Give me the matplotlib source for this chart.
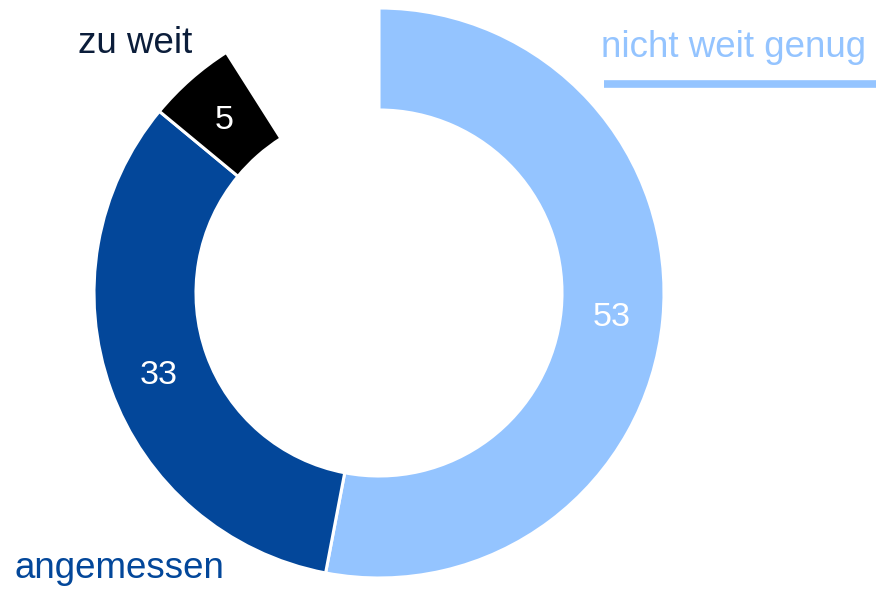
import matplotlib
matplotlib.use('Agg')
import matplotlib.pyplot as plt

# answer shares in percent (rest = no answer)
categories = ["nicht weit genug", "angemessen", "zu weit"]
values = [53, 33, 5]
colors = ["#94c4ff", "#03479a", "#000000"]
label_colors = ["#94c4ff", "#03479a", "#0b1d3a"]

plt.rcParams['font.family'] = ['Liberation Sans', 'DejaVu Sans']

W, H = 876, 589
fig = plt.figure(figsize=(W / 100, H / 100), dpi=100)
ax = fig.add_axes([0, 0, 1, 1])

# donut, clockwise from 12 o'clock
wedges, texts, autotexts = ax.pie(
    [v / 100 for v in values],
    normalize=False,
    colors=colors,
    startangle=90,
    counterclock=False,
    radius=285,
    center=(379, H - 293),
    autopct=lambda p: f"{p:.0f}",
    pctdistance=0.82,
    wedgeprops=dict(width=102, edgecolor="white", linewidth=2.2),
    textprops=dict(color="white", fontsize=24.5),
)
# nudge value labels slightly down
for t in autotexts:
    x, y = t.get_position()
    t.set_position((x, y - 3))

ax.set_xlim(0, W)
ax.set_ylim(0, H)
ax.set_aspect("equal")
ax.axis("off")

# category labels
ax.text(601, H - 57, categories[0], color=label_colors[0],
        fontsize=26.5, ha="left", va="baseline")
ax.plot([604, 876], [H - 84, H - 84], color=label_colors[0],
        linewidth=5.5, solid_capstyle="butt")
ax.text(14, H - 578, categories[1], color=label_colors[1],
        fontsize=26.5, ha="left", va="baseline")
ax.text(78, H - 53, categories[2], color=label_colors[2],
        fontsize=26.5, ha="left", va="baseline")

fig.savefig("out.png", dpi=100)
